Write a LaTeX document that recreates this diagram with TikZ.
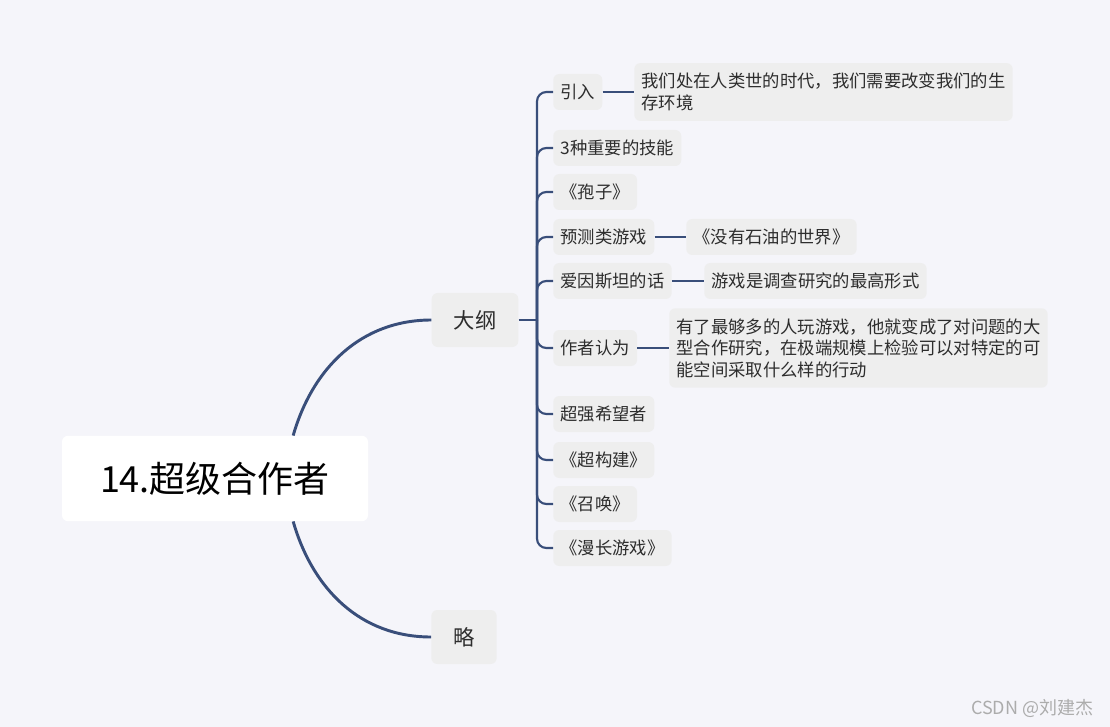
\documentclass[tikz,border=0pt]{standalone}
\usepackage{fontspec}
\setmainfont{Noto Sans CJK SC}
\usetikzlibrary{calc}
\definecolor{bg}{RGB}{245,245,250}
\definecolor{bc}{RGB}{238,238,238}
\definecolor{lc}{RGB}{57,78,122}
\definecolor{tc}{RGB}{45,45,45}
\tikzset{sub/.style={fill=bc,rounded corners=4.5pt,minimum height=27pt,inner xsep=5.4pt,anchor=west,text=tc,
   font=\fontsize{13pt}{16.2pt}\selectfont},
 leaf/.style={sub,align=left,inner ysep=7.5pt},
 mid/.style={sub,anchor=center,minimum height=40.5pt,inner xsep=16.5pt,font=\fontsize{16pt}{19pt}\selectfont},
 rootbox/.style={fill=white,rounded corners=4.5pt,minimum width=229.5pt,minimum height=64pt,
   font=\fontsize{27pt}{32pt}\selectfont},
 wire/.style={draw=lc,line width=1.6pt},main/.style={draw=lc,line width=2.2pt}}
\begin{document}
\begin{tikzpicture}[x=0.75pt,y=-0.75pt]
\path[fill=bg] (0,0) rectangle (1110,727);
\node[rootbox] (root) at (215,478.5) {14.超级合作者};
\node[mid] (dg) at (475,320) {大纲};\node[mid] (lv) at (464,637) {略};
\draw[main] ($(root.north west)!.755!(root.north east)$) to[out=74,in=180] (dg.west);
\draw[main] ($(root.south west)!.755!(root.south east)$) to[out=-74,in=180] (lv.west);
% children of 大纲
\node[sub] (a1) at (553,92) {引入};
\node[sub] (a2) at (553,148) {3种重要的技能};
\node[sub] (a3) at (553,192) {《孢子》};
\node[sub] (a4) at (553,237) {预测类游戏};
\node[sub] (a5) at (553,281) {爱因斯坦的话};
\node[sub] (a6) at (553,348) {作者认为};
\node[sub] (a7) at (553,414) {超强希望者};
\node[sub] (a8) at (553,460) {《超构建》};
\node[sub] (a9) at (553,504) {《召唤》};
\node[sub] (a10) at (553,548) {《漫长游戏》};
\coordinate (tr) at (537,320);
\draw[wire] (dg.east)--(tr);
\foreach \c in {a1,a2,a3,a4,a5,a6,a7,a8,a9,a10}
  \draw[wire,rounded corners=7pt] (tr)|-(\c.west);
% leaves
\node[leaf] (b1) at (634,92) {我们处在人类世的时代，我们需要改变我们的生\\存环境};
\node[sub] (b4) at (686,237) {《没有石油的世界》};
\node[sub] (b5) at (704,281) {游戏是调查研究的最高形式};
\node[leaf] (b6) at (669,348) {有了最够多的人玩游戏，他就变成了对问题的大\\型合作研究，在极端规模上检验可以对特定的可\\能空间采取什么样的行动};
\draw[wire] (a1.east)--(b1.west);\draw[wire] (a4.east)--(b4.west);
\draw[wire] (a5.east)--(b5.west);\draw[wire] (a6.east)--(b6.west);
\node[anchor=east,text=gray!65,font=\fontsize{13.5pt}{16pt}\selectfont] (wm) at (1098,708) {CSDN @刘建杰};
\end{tikzpicture}
\end{document}
